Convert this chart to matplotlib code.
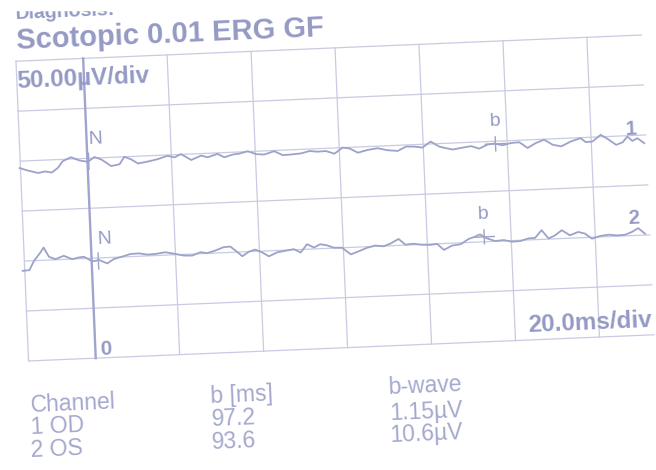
import numpy as np
import matplotlib.pyplot as plt
from matplotlib.transforms import Affine2D
from matplotlib.patches import Rectangle

plt.rcParams['font.family'] = ['Liberation Sans', 'DejaVu Sans']

# 时间轴 (ms) 与 两个通道相对基线的电压 (µV)
t1 = [-16.2, -14.2, -11.8, -10.2, -8.6, -7.1, -5.9, -3.9, -1.9, 0.1,
      1.7, 3.3, 5.6, 7.6, 8.8, 10.4, 12.0, 14.4, 16.7, 19.1,
      20.7, 22.3, 24.7, 27.1, 28.6, 31.0, 32.6, 34.6,
      36.2, 38.2, 40.2, 42.1, 44.5, 46.5, 48.5, 50.9, 52.9, 54.8,
      56.8, 58.8, 60.8, 62.4, 64.4, 66.7, 69.1, 71.5, 73.9, 75.9,
      77.9, 79.8, 81.8, 83.8,
      85.0, 87.0, 89.0, 91.4, 93.3, 95.3, 96.9, 98.9, 100.9, 102.9,
      104.8, 106.8, 108.8, 110.8, 112.8, 115.2, 117.5, 118.7, 120.3, 122.3,
      123.9, 125.9, 127.5, 128.6, 129.8, 131.0, 132.6]
v1 = [-6.9, -9.8, -12.6, -11.3, -12.7, -8.3, -1.8, 1.8, -1.8, -3.5,
      1.0, -1.7, -8.7, -7.3, 0.0, -2.8, -7.3, -5.7, -3.8, -0.8,
      -2.7, 0.3, -6.0, -2.0, -4.0, -1.0, -4.7, -2.3,
      -1.6, 0.4, -2.9, -3.6, -0.7, -5.0, -4.7, -4.0, -2.0, -3.0,
      -2.7, -5.7, 0.0, -1.0, -5.7, -3.4, -2.0, -4.5, -5.6, -1.6,
      -2.0, -3.3, 2.4, -3.0,
      -4.4, -6.5, -5.2, -3.9, -6.7, -3.0, -2.3, -4.3, -2.4, -2.0,
      -8.1, -3.5, -0.5, -5.9, -7.9, -3.3, -0.5, -4.7, -4.3, 2.0,
      -2.3, -8.7, -6.3, -0.8, -5.4, -2.9, -8.2]

t2 = [-16.5, -14.9, -13.7, -12.1, -11.3, -10.1, -8.6, -6.6, -4.6, -3.0,
      -1.8, 0.2, 1.8, 3.7, 5.3, 7.3, 9.3, 11.3, 13.3, 15.2,
      17.6, 20.0, 22.0, 24.0, 26.0, 27.5, 29.5, 31.5, 33.1,
      34.3, 35.9, 37.5, 39.0, 40.6, 42.2, 44.2, 46.2, 48.2, 49.8,
      51.4, 53.0, 54.5, 56.1, 57.7, 59.7, 61.7, 63.7, 65.6, 67.6,
      69.6, 71.2, 73.2, 74.8, 76.8, 78.7, 80.7, 82.3,
      83.9, 85.9, 87.9, 89.9, 91.4, 92.6, 94.2, 96.2, 98.2, 100.2,
      102.1, 104.1, 105.7, 107.3, 108.9, 110.5, 112.1, 114.0, 116.0, 117.6,
      119.2, 121.2, 123.2, 125.2, 127.1, 128.7, 130.3, 131.9]
v2 = [-9.7, -9.3, -0.2, 7.9, 12.7, 3.2, 0.6, 3.6, -0.1, 1.3,
      1.8, -3.2, -2.1, -5.8, -1.7, 0.3, 2.6, 2.9, 1.3, 1.6,
      2.9, 0.8, -1.2, -1.5, 1.5, 0.2, 2.5, 5.5, 5.9,
      1.7, -4.3, 0.0, 1.8, -1.2, -5.5, -1.9, -0.6, 0.6, -3.0,
      5.0, 1.4, 4.4, 3.1, 0.4, 0.0, -7.0, -4.1, -1.1, 0.8,
      -0.3, 2.1, 6.4, 0.4, 1.0, -0.4, -0.8, -0.1,
      -6.4, -2.4, -1.5, 3.5, 5.5, 7.6, 3.3, 0.3, 0.9, -1.1,
      -0.8, 1.5, 1.8, 9.2, 0.6, 3.6, 8.3, 2.9, 5.9, 3.9,
      -1.4, 0.9, 1.9, 0.8, 1.1, 3.5, 7.2, 1.2]

channels = ["1 OD", "2 OS"]
b_ms = [97.2, 93.6]
b_wave = ["1.15µV", "10.6µV"]
n_ms = [0.3, 1.6]
baselines = [200, 100]

W, H = 656, 470
col_txt = '#959ac4'
col_tab = '#a4a8cd'
col_grid = '#c8cbe2'
col_trace = '#9da2c9'

fig = plt.figure(figsize=(W / 100, H / 100), dpi=100)
ax = fig.add_axes([22 / W, 1 - 348 / H, 626 / W, 300 / H])
ax.set_xlim(-16, 133)
ax.set_ylim(0, 300)
ax.axis('off')

# 打印件有点歪，整体旋转一下
rot = Affine2D().rotate_deg_around(335, H - 198, 2.4)
tr = ax.transData + rot
pix = Affine2D().scale(1, -1).translate(0, H)
ang = 2.4

# 网格（右边没有边框线）
for t in [-16, 20, 40, 60, 80, 100, 120]:
    ax.plot([t, t], [0, 300], color=col_grid, lw=0.9, transform=tr, clip_on=False)
for v in range(0, 301, 50):
    ax.plot([-16, 133], [v, v], color=col_grid, lw=0.9, transform=tr, clip_on=False)
ax.plot([0, 0], [0, 300], color='#a0a4ce', lw=1.7, transform=tr, clip_on=False)

# 曲线
for tt, vv, base in [(t1, v1, baselines[0]), (t2, v2, baselines[1])]:
    ax.plot(tt, np.array(vv) + base, color=col_trace, lw=1.3, transform=tr,
            clip_on=False, solid_joinstyle='round')

# 标记 N / b
traces = [(t1, v1), (t2, v2)]
for i in range(2):
    tt, vv = traces[i]
    base = baselines[i]
    ax.plot([n_ms[i], n_ms[i]], [base - 11, base + 5], color=col_trace, lw=1.0,
            transform=tr, clip_on=False)
    ax.text(n_ms[i], base + 14, "N", color=col_txt, fontsize=14, transform=tr,
            rotation=ang, rotation_mode='anchor', ha='left', va='baseline')
    yb = np.interp(b_ms[i], tt, vv) + base
    ax.plot([b_ms[i], b_ms[i]], [yb - 7, yb + 7], color=col_trace, lw=1.0,
            transform=tr, clip_on=False)
    ax.plot([b_ms[i] - 2.4, b_ms[i] + 2.4], [yb, yb], color=col_trace, lw=1.0,
            transform=tr, clip_on=False)
    ax.text(b_ms[i], yb + 18, "b", color=col_txt, fontsize=14, transform=tr,
            rotation=ang, rotation_mode='anchor', ha='center', va='baseline')

ax.text(129.5, baselines[0] + 1, "1", color=col_txt, fontsize=14.5, fontweight='bold',
        transform=tr, rotation=ang, rotation_mode='anchor', ha='center', va='baseline')
ax.text(129.3, baselines[1] + 12, "2", color=col_txt, fontsize=14.5, fontweight='bold',
        transform=tr, rotation=ang, rotation_mode='anchor', ha='center', va='baseline')


def txt(x, y, s, size, weight='normal', color=col_txt):
    fig.text(x, y, s, transform=pix, color=color, fontsize=size, fontweight=weight,
             rotation=ang, rotation_mode='anchor', ha='left', va='baseline')


txt(16, 19, "Diagnosis:", 14, 'bold')
txt(17, 49.5, "Scotopic 0.01 ERG GF", 21, 'bold')
txt(17, 88, "50.00µV/div", 17.5, 'bold')
txt(528, 332, "20.0ms/div", 17.5, 'bold')
txt(100, 355, "0", 15, 'bold')

# 下方的结果表
txt(31, 412, "Channel", 16.5, color=col_tab)
txt(211, 403, "b [ms]", 16.5, color=col_tab)
txt(389, 394, "b-wave", 16.5, color=col_tab)
for i in range(2):
    txt(31, 434 + 23 * i, channels[i], 16.5, color=col_tab)
    txt(212, 426 + 23 * i, "%.1f" % b_ms[i], 16.5, color=col_tab)
    txt(390, 420 + 22 * i, b_wave[i], 16.5, color=col_tab)

# 顶部白边（原图标题被裁掉一截）
fig.add_artist(Rectangle((0, 0), W, 10, transform=pix, color='white', zorder=10))

fig.savefig('out.png', dpi=100)
